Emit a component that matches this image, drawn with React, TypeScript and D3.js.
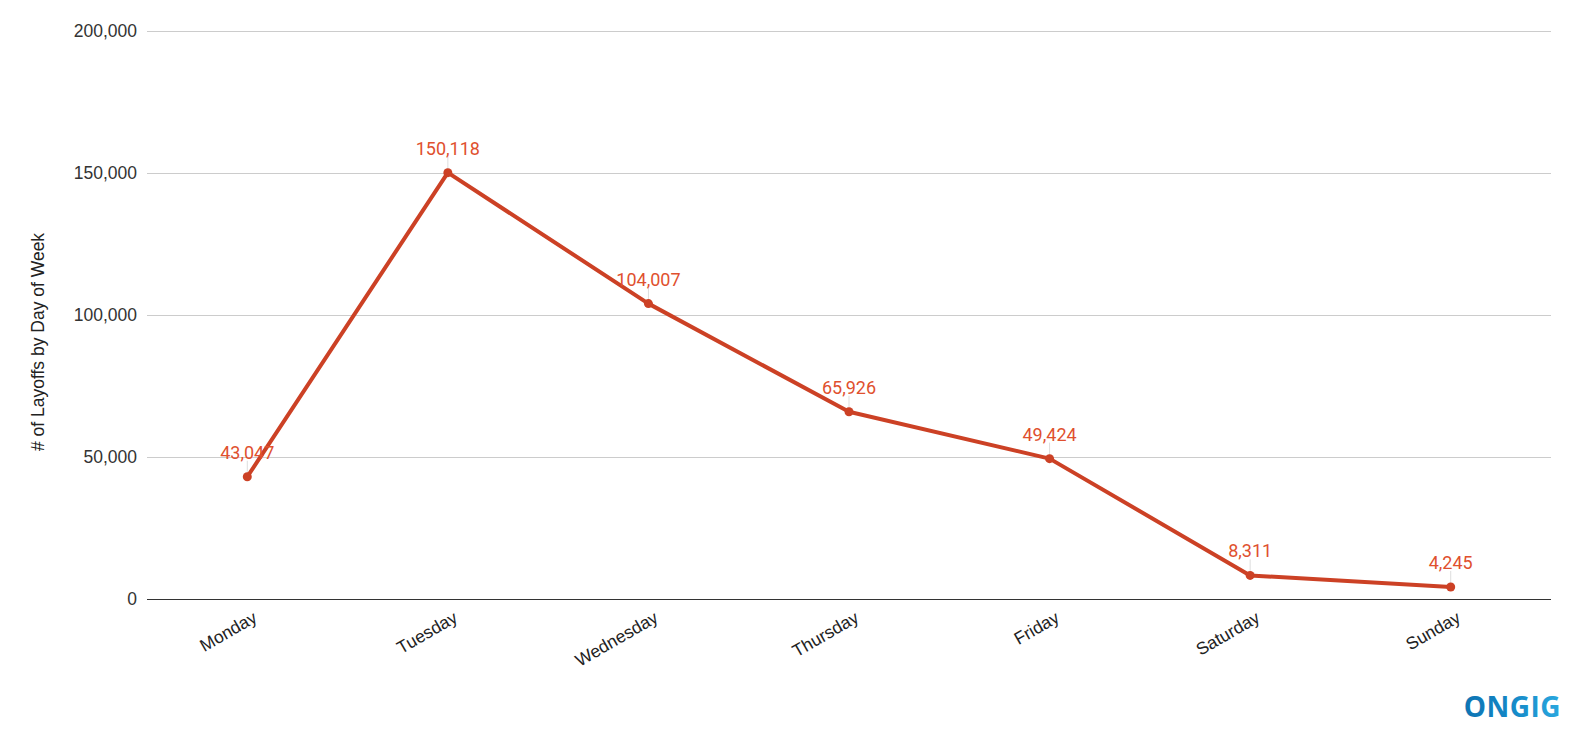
import React from "react";
import * as d3 from "d3";

const days = ["Monday", "Tuesday", "Wednesday", "Thursday", "Friday", "Saturday", "Sunday"];
const layoffs = [43047, 150118, 104007, 65926, 49424, 8311, 4245];
const yTicks = [0, 50000, 100000, 150000, 200000];
const yTitle = "# of Layoffs by Day of Week";

export default function App() {
  const W = 1577, H = 736;
  const left = 147, right = 1551, top = 31, bottom = 599;
  const x = d3.scalePoint<string>().domain(days).range([left, right]).padding(0.5);
  const y = d3.scaleLinear().domain([0, 200000]).range([bottom, top]);
  const fmt = d3.format(",");
  const line = d3.line<number>().x((_, i) => x(days[i])!).y((d) => y(d));
  const axisFont = "'Liberation Sans', Arial, sans-serif";
  const labelFont = "Roboto, 'Noto Sans', Arial, sans-serif";
  const lineColor = "#cc4125";
  const labelColor = "#e0502e";
  return (
    <svg width={W} height={H} style={{ position: "absolute", left: 0, top: 0, background: "#fff" }}>
      {yTicks.map((t) => (
        <g key={t}>
          <line x1={left} x2={right} y1={y(t)} y2={y(t)} stroke={t === 0 ? "#333" : "#cccccc"} strokeWidth={1} shapeRendering="crispEdges" />
          <text x={137} y={y(t)} dy="0.35em" textAnchor="end" fontSize={17.5} fill="#333" fontFamily={axisFont}>{fmt(t)}</text>
        </g>
      ))}
      <text transform={`translate(44,342) rotate(-90)`} textAnchor="middle" fontSize={17.5} fill="#222" fontFamily={axisFont}>{yTitle}</text>
      {days.map((d) => (
        <text key={d} transform={`translate(${x(d)! + 11},${621}) rotate(-30)`} textAnchor="end" fontSize={17.5} fill="#222" fontFamily={axisFont}>{d}</text>
      ))}
      {layoffs.map((v, i) => (
        <line key={"l" + i} x1={x(days[i])!} x2={x(days[i])!} y1={y(v) - 16} y2={y(v)} stroke="#ddd" strokeWidth={1} />
      ))}
      <path d={line(layoffs)!} fill="none" stroke={lineColor} strokeWidth={4} strokeLinejoin="round" />
      {layoffs.map((v, i) => (
        <circle key={"c" + i} cx={x(days[i])!} cy={y(v)} r={4.5} fill={lineColor} />
      ))}
      {layoffs.map((v, i) => (
        <text key={"t" + i} x={x(days[i])!} y={y(v) - 18} textAnchor="middle" fontSize={18} fill={labelColor} fontFamily={labelFont}>{fmt(v)}</text>
      ))}
      <defs>
        <linearGradient id="lg" x1="0" x2="1" y1="0" y2="0">
          <stop offset="0" stopColor="#0e74b3" />
          <stop offset="0.45" stopColor="#1386c5" />
          <stop offset="1" stopColor="#2aa8df" />
        </linearGradient>
      </defs>
      <text x={1561} y={717} textAnchor="end" fontSize={28} fontWeight={700} fill="url(#lg)" fontFamily="'Open Sans', Roboto, sans-serif" letterSpacing={0.5}>ONGIG</text>
    </svg>
  );
}
